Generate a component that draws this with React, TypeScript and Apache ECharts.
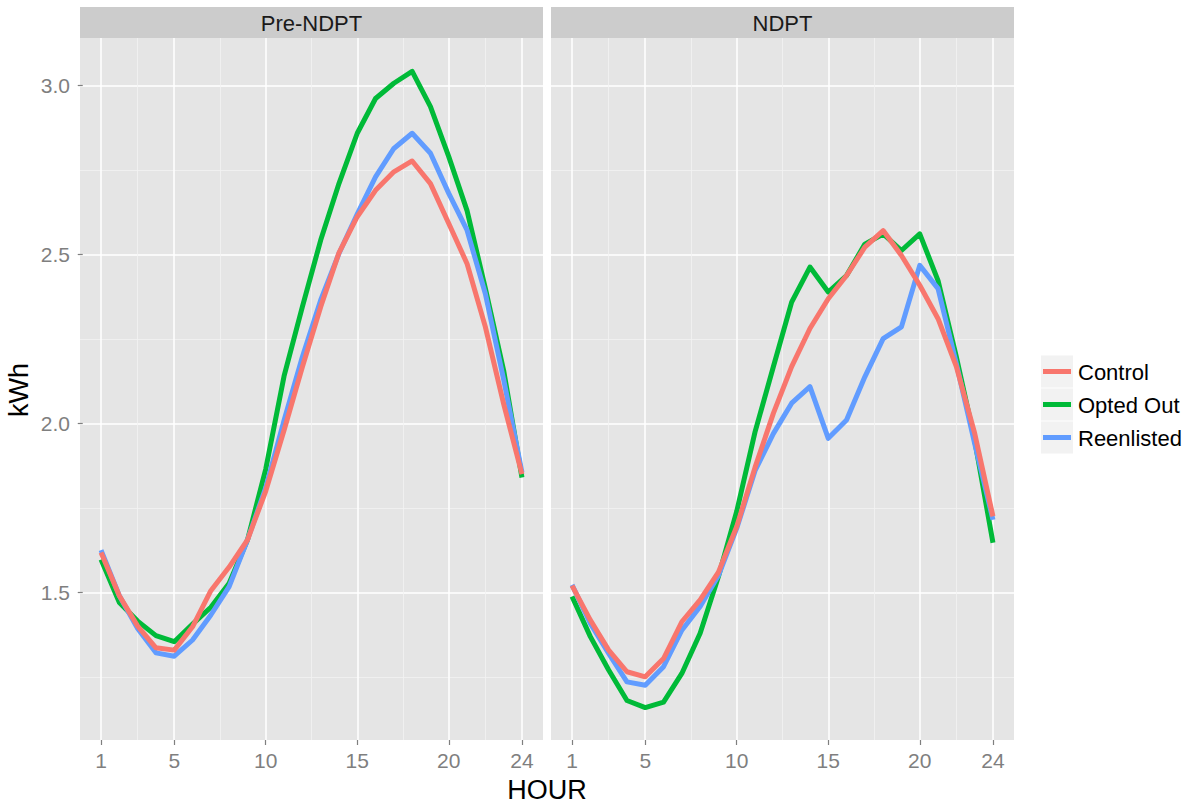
import React, { useEffect, useRef } from "react";
import * as echarts from "echarts";

const hours = [1, 2, 3, 4, 5, 6, 7, 8, 9, 10, 11, 12, 13, 14, 15, 16, 17, 18, 19, 20, 21, 22, 23, 24];
const panels = ["Pre-NDPT", "NDPT"];
const groups = ["Control", "Opted Out", "Reenlisted"];
const groupColors = ["#F8766D", "#00BA38", "#619CFF"];

const xMajorTicks = [1, 5, 10, 15, 20, 24];
const xMinorTicks = [3, 7.5, 12.5, 17.5, 22];
const yMajorTicks = [1.5, 2.0, 2.5, 3.0];
const yMinorTicks = [1.25, 1.75, 2.25, 2.75];

// Pre-NDPT panel
const preControl = [1.618, 1.49, 1.4, 1.336, 1.329, 1.398, 1.505, 1.575, 1.655, 1.8, 1.98, 2.167, 2.345, 2.505, 2.612, 2.69, 2.745, 2.777, 2.71, 2.592, 2.473, 2.286, 2.058, 1.85];
const preOptedOut = [1.597, 1.47, 1.415, 1.372, 1.354, 1.406, 1.456, 1.527, 1.655, 1.865, 2.14, 2.345, 2.542, 2.71, 2.859, 2.962, 3.007, 3.042, 2.938, 2.79, 2.63, 2.4, 2.157, 1.84];
const preReenlisted = [1.625, 1.49, 1.393, 1.321, 1.311, 1.359, 1.433, 1.517, 1.655, 1.81, 2.009, 2.197, 2.365, 2.503, 2.62, 2.73, 2.814, 2.859, 2.8, 2.681, 2.572, 2.384, 2.13, 1.855];

// NDPT panel
const ndptControl = [1.52, 1.418, 1.329, 1.265, 1.25, 1.304, 1.413, 1.478, 1.56, 1.695, 1.87, 2.03, 2.168, 2.281, 2.369, 2.438, 2.522, 2.571, 2.497, 2.409, 2.31, 2.168, 1.971, 1.725];
const ndptOptedOut = [1.488, 1.369, 1.27, 1.18, 1.159, 1.175, 1.26, 1.379, 1.547, 1.74, 1.975, 2.168, 2.359, 2.463, 2.389, 2.438, 2.531, 2.561, 2.512, 2.561, 2.423, 2.197, 1.951, 1.647];
const ndptReenlisted = [1.522, 1.408, 1.319, 1.235, 1.225, 1.28, 1.388, 1.458, 1.55, 1.69, 1.86, 1.97, 2.06, 2.109, 1.956, 2.01, 2.138, 2.251, 2.286, 2.468, 2.399, 2.177, 1.941, 1.715];

const panelData = [
  [preControl, preOptedOut, preReenlisted],
  [ndptControl, ndptOptedOut, ndptReenlisted],
];

const X_MIN = -0.15;
const X_MAX = 25.15;
const Y_MIN = 1.063;
const Y_MAX = 3.141;

const FONT = "'Liberation Sans', Arial, Helvetica, sans-serif";

export default function App() {
  const ref = useRef<HTMLDivElement>(null);

  useEffect(() => {
    if (!ref.current) return;
    const chart = echarts.init(ref.current, null, { renderer: "svg" });

    const panelLeft = [80, 551];
    const panelWidth = 463;
    const panelTop = 38;
    const panelBottom = 740;

    const grids = panelLeft.map((l) => ({
      left: l,
      top: panelTop,
      width: panelWidth,
      height: panelBottom - panelTop,
      show: true,
      backgroundColor: "#E5E5E5",
      borderWidth: 0,
    }));

    const xAxes: any[] = [];
    const yAxes: any[] = [];
    panels.forEach((_, p) => {
      xAxes.push({
        type: "value",
        gridIndex: p,
        min: X_MIN,
        max: X_MAX,
        axisLine: { show: false },
        axisTick: {
          show: true,
          length: 5,
          customValues: xMajorTicks,
          lineStyle: { color: "#7F7F7F", width: 1.2 },
        },
        axisLabel: {
          show: true,
          customValues: xMajorTicks,
          fontSize: 21,
          color: "#7F7F7F",
          fontFamily: FONT,
          margin: 10,
        },
        splitLine: { show: true, lineStyle: { color: "#FFFFFF", width: 1.5 } },
      });
      xAxes.push({
        type: "value",
        gridIndex: p,
        min: X_MIN,
        max: X_MAX,
        position: "bottom",
        axisLine: { show: false },
        axisTick: { show: false, customValues: xMinorTicks },
        axisLabel: { show: false },
        splitLine: { show: true, lineStyle: { color: "#F2F2F2", width: 0.8 } },
      });
      yAxes.push({
        type: "value",
        gridIndex: p,
        min: Y_MIN,
        max: Y_MAX,
        axisLine: { show: false },
        axisTick: {
          show: p === 0,
          length: 5,
          customValues: yMajorTicks,
          lineStyle: { color: "#7F7F7F", width: 1.2 },
        },
        axisLabel: {
          show: p === 0,
          customValues: yMajorTicks,
          formatter: (v: number) => v.toFixed(1),
          fontSize: 21,
          color: "#7F7F7F",
          fontFamily: FONT,
          margin: 10,
        },
        splitLine: { show: true, lineStyle: { color: "#FFFFFF", width: 1.5 } },
      });
      yAxes.push({
        type: "value",
        gridIndex: p,
        min: Y_MIN,
        max: Y_MAX,
        position: "left",
        axisLine: { show: false },
        axisTick: { show: false, customValues: yMinorTicks },
        axisLabel: { show: false },
        splitLine: { show: true, lineStyle: { color: "#F2F2F2", width: 0.8 } },
      });
    });

    // draw order: Opted Out, Reenlisted, Control (Control on top)
    const drawOrder = [1, 2, 0];
    const series: any[] = [];
    panels.forEach((_, p) => {
      drawOrder.forEach((g, k) => {
        series.push({
          type: "line",
          name: groups[g],
          xAxisIndex: p * 2,
          yAxisIndex: p * 2,
          data: hours.map((h, i) => [h, panelData[p][g][i]]),
          symbol: "none",
          showSymbol: false,
          silent: true,
          z: 3 + k,
          lineStyle: { color: groupColors[g], width: 5, join: "round", cap: "butt" },
          itemStyle: { color: groupColors[g] },
        });
      });
    });

    const graphics: any[] = [];
    panels.forEach((name, p) => {
      graphics.push({
        type: "rect",
        shape: { x: panelLeft[p], y: 7, width: panelWidth, height: 31 },
        style: { fill: "#CCCCCC" },
        silent: true,
      });
      graphics.push({
        type: "text",
        x: panelLeft[p] + panelWidth / 2,
        y: 23,
        style: {
          text: name,
          fontSize: 22,
          fontFamily: FONT,
          fill: "#1A1A1A",
          align: "center",
          verticalAlign: "middle",
        },
        silent: true,
      });
    });

    graphics.push({
      type: "text",
      x: 547,
      y: 790,
      style: {
        text: "HOUR",
        fontSize: 27,
        fontFamily: FONT,
        fill: "#000000",
        align: "center",
        verticalAlign: "middle",
      },
    });
    graphics.push({
      type: "text",
      x: 19,
      y: 390,
      rotation: Math.PI / 2,
      style: {
        text: "kWh",
        fontSize: 27,
        fontFamily: FONT,
        fill: "#000000",
        align: "center",
        verticalAlign: "middle",
      },
    });

    // legend
    const keyX = 1041;
    const keyTop = 355;
    const keySize = 33;
    groups.forEach((g, i) => {
      const y0 = keyTop + i * keySize;
      graphics.push({
        type: "rect",
        shape: { x: keyX, y: y0 + 0.5, width: 32, height: keySize - 1 },
        style: { fill: "#F2F2F2" },
      });
      graphics.push({
        type: "line",
        shape: { x1: keyX + 2, y1: y0 + keySize / 2, x2: keyX + 30, y2: y0 + keySize / 2 },
        style: { stroke: groupColors[i], lineWidth: 5 },
      });
      graphics.push({
        type: "text",
        x: 1078,
        y: y0 + keySize / 2 + 1,
        style: {
          text: g,
          fontSize: 22,
          fontFamily: FONT,
          fill: "#000000",
          align: "left",
          verticalAlign: "middle",
        },
      });
    });

    chart.setOption({
      animation: false,
      backgroundColor: "#FFFFFF",
      textStyle: { fontFamily: FONT },
      grid: grids,
      xAxis: xAxes,
      yAxis: yAxes,
      series,
      graphic: graphics,
    });

    return () => {
      chart.dispose();
    };
  }, []);

  return (
    <div
      ref={ref}
      style={{ position: "absolute", left: 0, top: 0, width: 1189, height: 806, background: "#FFFFFF" }}
    />
  );
}
